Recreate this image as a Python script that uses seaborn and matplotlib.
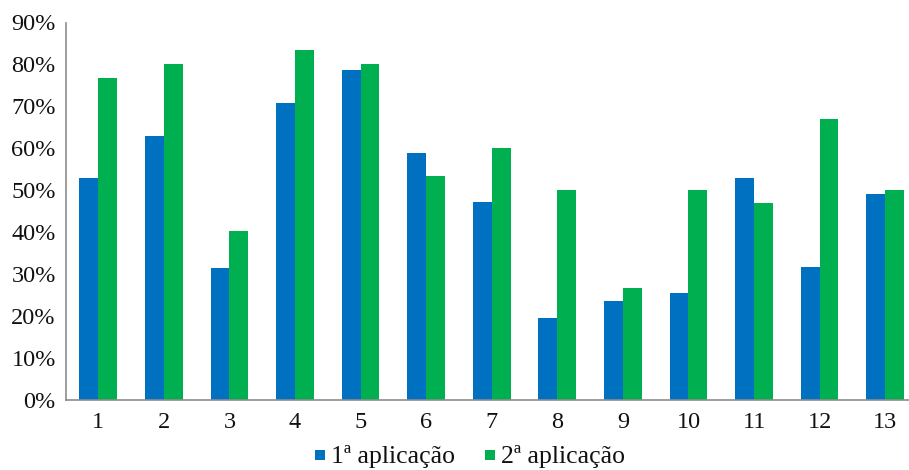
import matplotlib
matplotlib.use("Agg")
import matplotlib.pyplot as plt
import matplotlib.ticker as mticker
from matplotlib.lines import Line2D
import pandas as pd
import seaborn as sns

categories = ["1", "2", "3", "4", "5", "6", "7", "8", "9", "10", "11", "12", "13"]
primeira = [53, 63, 31.5, 70.7, 78.6, 58.9, 47.2, 19.6, 23.6, 25.6, 53, 31.6, 49.2]
segunda = [76.8, 80.2, 40.2, 83.4, 80.2, 53.4, 60.1, 50.1, 26.8, 50.1, 46.9, 66.9, 50.1]
series_names = ["1ª aplicação", "2ª aplicação"]
colors = ["#0070C0", "#00B050"]

df = pd.DataFrame({
    "questao": categories * 2,
    "valor": primeira + segunda,
    "serie": [series_names[0]] * len(categories) + [series_names[1]] * len(categories),
})

sns.set_theme(style="white")
plt.rcParams["font.family"] = ["Liberation Serif", "DejaVu Serif"]

fig = plt.figure(figsize=(9.09, 4.70), dpi=100)
W, H = 909, 470
left, right = 65.5, 918.0
y0, y90 = 400.0, 22.5
ax = fig.add_axes([left / W, (H - y0) / H, (right - left) / W, (y0 - y90) / H])

sns.barplot(data=df, x="questao", y="valor", hue="serie", order=categories,
            hue_order=series_names, palette=colors, width=0.575,
            saturation=1, ax=ax, legend=False, linewidth=0)

ax.set_ylim(0, 90)
ax.set_xlim(-0.5, len(categories) - 0.5)
ax.yaxis.set_major_locator(mticker.MultipleLocator(10))
ax.yaxis.set_major_formatter(mticker.FuncFormatter(lambda v, p: f"{v:.0f}%"))
ax.set_xlabel("")
ax.set_ylabel("")
ax.tick_params(axis="both", length=0, labelsize=17.5, colors="#111111")
ax.tick_params(axis="y", pad=7)
ax.tick_params(axis="x", pad=9)
for s in ["top", "right"]:
    ax.spines[s].set_visible(False)
for s in ["left", "bottom"]:
    ax.spines[s].set_color("#8c8c8c")
    ax.spines[s].set_linewidth(1.2)
ax.grid(False)

handles = [Line2D([], [], marker="s", linestyle="none", markersize=7,
                  markerfacecolor=c, markeredgecolor=c, markeredgewidth=0)
           for c in colors]
fig.legend(handles, series_names, loc="center", bbox_to_anchor=(470 / W, 13 / H),
           ncol=2, frameon=False, fontsize=18.5, handlelength=0.4,
           handletextpad=0.25, columnspacing=1.15,
           borderaxespad=0, borderpad=0, labelcolor="#111111")

fig.savefig("out.png", dpi=100)
